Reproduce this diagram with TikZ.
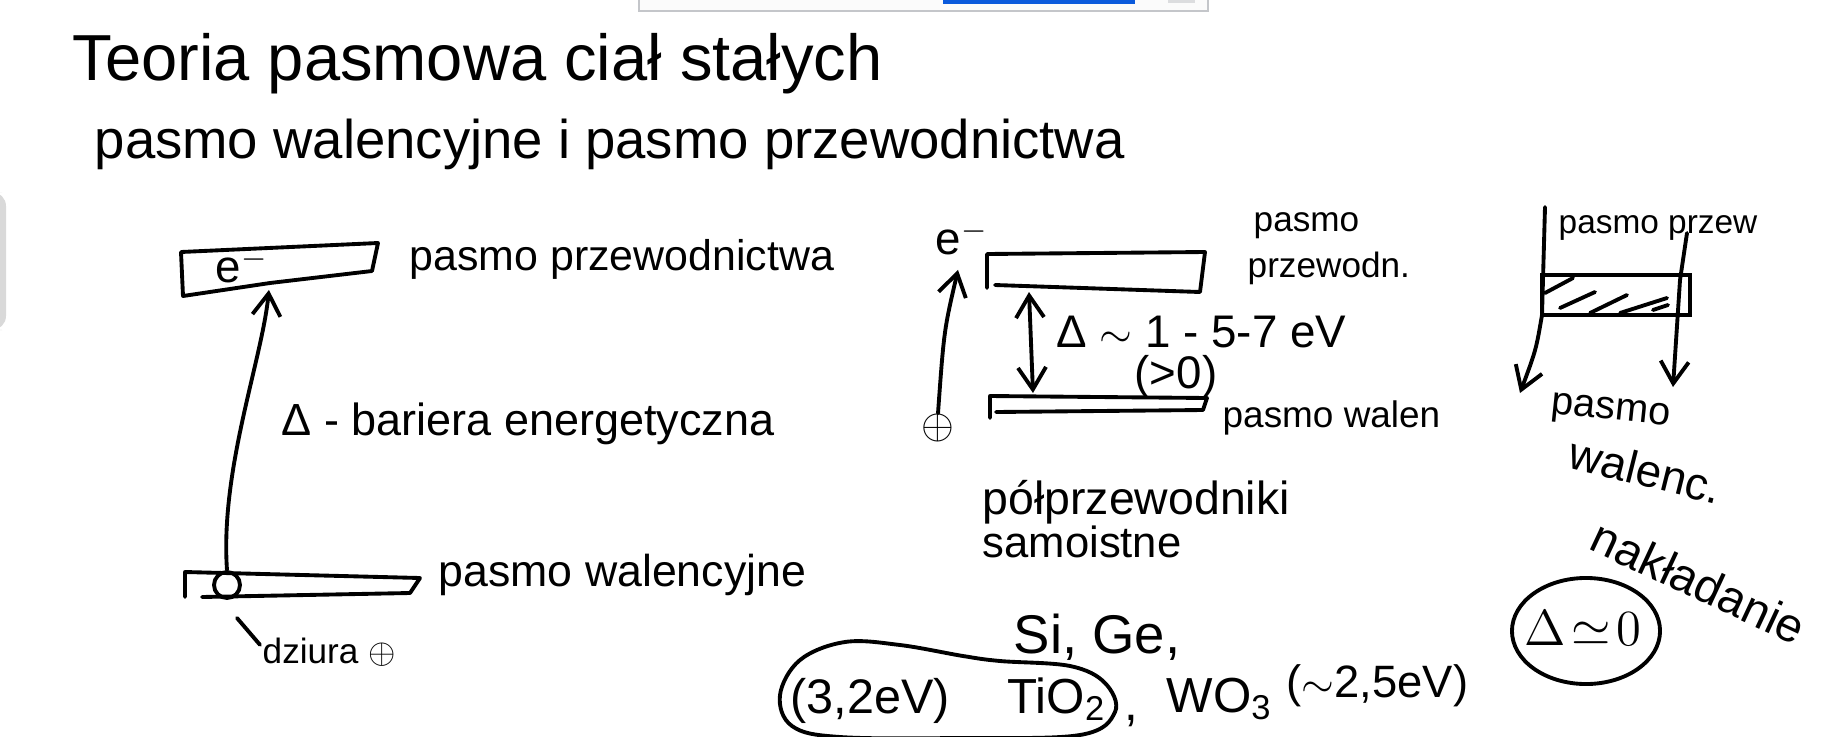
\documentclass[tikz,border=0pt]{standalone}
\usepackage{fontspec}
\setmainfont{Liberation Sans}
\usetikzlibrary{arrows.meta, positioning, shapes.geometric, calc}
\definecolor{ink}{RGB}{0,0,0}
\definecolor{uiblue}{RGB}{10,90,220}
\definecolor{uigrey}{RGB}{196,198,202}
\newcommand{\fsz}[1]{\fontsize{#1}{#1}\selectfont}

\begin{document}
\begin{tikzpicture}[
  x=0.01cm, y=-0.01cm,
  pen/.style={draw=ink, line width=1.1pt, line cap=round, line join=round},
  band/.style={pen},
  txt/.style={anchor=base west, inner sep=0pt, text=ink},
  arr/.style={pen, -{Straight Barb[length=2.2mm, width=2.8mm]}},
  dbl/.style={pen, {Straight Barb[length=2.2mm, width=2.8mm]}-{Straight Barb[length=2.2mm, width=2.8mm]}},
  hole/.style={circle, pen, minimum size=2.6mm, inner sep=0pt}
]
\useasboundingbox (0,0) rectangle (1833,736);
\fill[white] (0,0) rectangle (1833,736);

% screen leftovers
\draw[uigrey, fill=white!97!gray] (639,-4) rectangle (1208,11);
\fill[uiblue] (943,-6) rectangle (1135,4);
\fill[uigrey!60] (1168,-6) rectangle (1195,3);
\fill[gray!30, rounded corners=4pt] (-12,192) rectangle (6,330);

\node[txt, font=\fsz{18.5}] (title) at (72,80) {Teoria pasmowa ciał stałych};
\node[txt, font=\fsz{15.5}] (sub) at (94,158) {pasmo walencyjne i pasmo przewodnictwa};

% left: bands and gap
\draw[band] (181,252) -- (378,243) -- (372,271) -- (270,283) -- (183,296) -- cycle;
\draw[band] (185,597) -- (185,572) -- (420,578) -- (410,593) -- (202,597);
\node[txt, anchor=center, font=\fsz{13}] (e1) at (242,266) {e$^-$};
\node[hole] (h1) at (227,585) {};
\draw[arr] (h1.north) .. controls (220,470) and (262,360) .. ($(e1.south east)+(0,6)$);
\node[txt, font=\fsz{12.2}] (cbl) at (409,270) {pasmo przewodnictwa};
\node[txt, font=\fsz{12.8}] (gap) at (281,435) {Δ - bariera energetyczna};
\node[txt, font=\fsz{12.7}] (vbl) at (438,586) {pasmo walencyjne};
\node[txt, font=\fsz{10}] (hl) at (262,663) {dziura $\oplus$};
\coordinate (lead) at (237,618);
\draw[pen] (lead) -- ($(hl.north west)+(-2,8)$);

% middle: semiconductor
\draw[band] (995,285) -- (1200,292) -- (1205,252) -- (987,254) -- (987,288);
\draw[band] (990,418) -- (990,396) -- (1207,398) -- (1203,410) -- (996,412);
\coordinate (gtop) at (1029,292);
\coordinate (gbot) at (1033,393);
\draw[dbl] (gtop) -- (gbot);
\node[txt, anchor=center, font=\fsz{13}] (e2) at (962,238) {e$^-$};
\node[txt, anchor=center, font=\fsz{13}] (p2) at (938,428) {$\oplus$};
\draw[arr] (p2.north) .. controls (944,330) .. ($(e2.south)+(-4,14)$);
\node[txt, font=\fsz{10}] (cb2a) at (1253,231) {pasmo};
\node[txt, font=\fsz{10}] (cb2b) at (1247,277) {przewodn.};
\node[txt, font=\fsz{13}] (gap2) at (1056,347) {Δ $\sim$ 1 - 5-7 eV};
\node[txt, font=\fsz{13}] (pos) at (1134,388) {(>0)};
\node[txt, font=\fsz{10.5}] (vb2) at (1222,427) {pasmo walen};
\node[txt, font=\fsz{13.2}] (semi) at (982,514) {półprzewodniki};
\node[txt, font=\fsz{12.4}] (semib) at (982,557) {samoistne};

% materials
\node[txt, font=\fsz{15.5}] (sige) at (1013,653) {Si, Ge,};
\node[txt, font=\fsz{13.8}] (e32) at (790,713) {(3,2eV)};
\node[txt, font=\fsz{14}] (tio) at (1007,713) {TiO\textsubscript{2}};
\node[txt, font=\fsz{14}] (comma) at (1124,720) {,};
\node[txt, font=\fsz{14}] (wo) at (1166,712) {WO\textsubscript{3}};
\node[txt, font=\fsz{12.9}] (e25) at (1286,697) {($\sim$2,5eV)};
\draw[pen] plot[smooth cycle, tension=0.6] coordinates {(963,656) (900,645) (845,642) (800,660) (780,695) (792,726) (840,737) (960,738) (1080,735) (1115,712) (1105,683) (1070,666) (1000,661)};

% right: overlapping bands
\coordinate (rl1) at (1545,207);
\coordinate (rl2) at (1520,393);
\coordinate (rr1) at (1687,233);
\coordinate (rr2) at (1673,387);
\draw[arr] (rl1) -- (1542,315) .. controls (1536,350) .. (rl2);
\draw[arr] (rr1) -- (1680,280) -- (rr2);
\node[draw=ink, line width=1.1pt, minimum width=1.48cm, minimum height=0.4cm, inner sep=0pt] (ovl) at (1616,295) {};
\foreach \xa/\ya/\xb/\yb in {1545/293/1573/278, 1560/308/1595/292, 1590/313/1627/295, 1620/313/1667/298, 1653/310/1668/305}
  \draw[pen] (\xa,\ya) -- (\xb,\yb);
\node[txt, font=\fsz{9.5}] (cb3) at (1558,233) {pasmo przew};
\node[txt, font=\fsz{11.3}, rotate=-6] (vb3a) at (1550,413) {pasmo};
\node[txt, anchor=center, font=\fsz{13}, rotate=-14] (vb3b) at (1646,470) {walenc.};
\node[txt, anchor=center, font=\fsz{13.5}, rotate=-25] (over) at (1699,582) {nakładanie};
\node[txt, anchor=center, font=\fsz{15}] (zero) at (1583,628) {$\Delta\!\simeq\!0$};
\draw[pen] (1586,631) ellipse [x radius=0.74cm, y radius=0.53cm];
\end{tikzpicture}
\end{document}
